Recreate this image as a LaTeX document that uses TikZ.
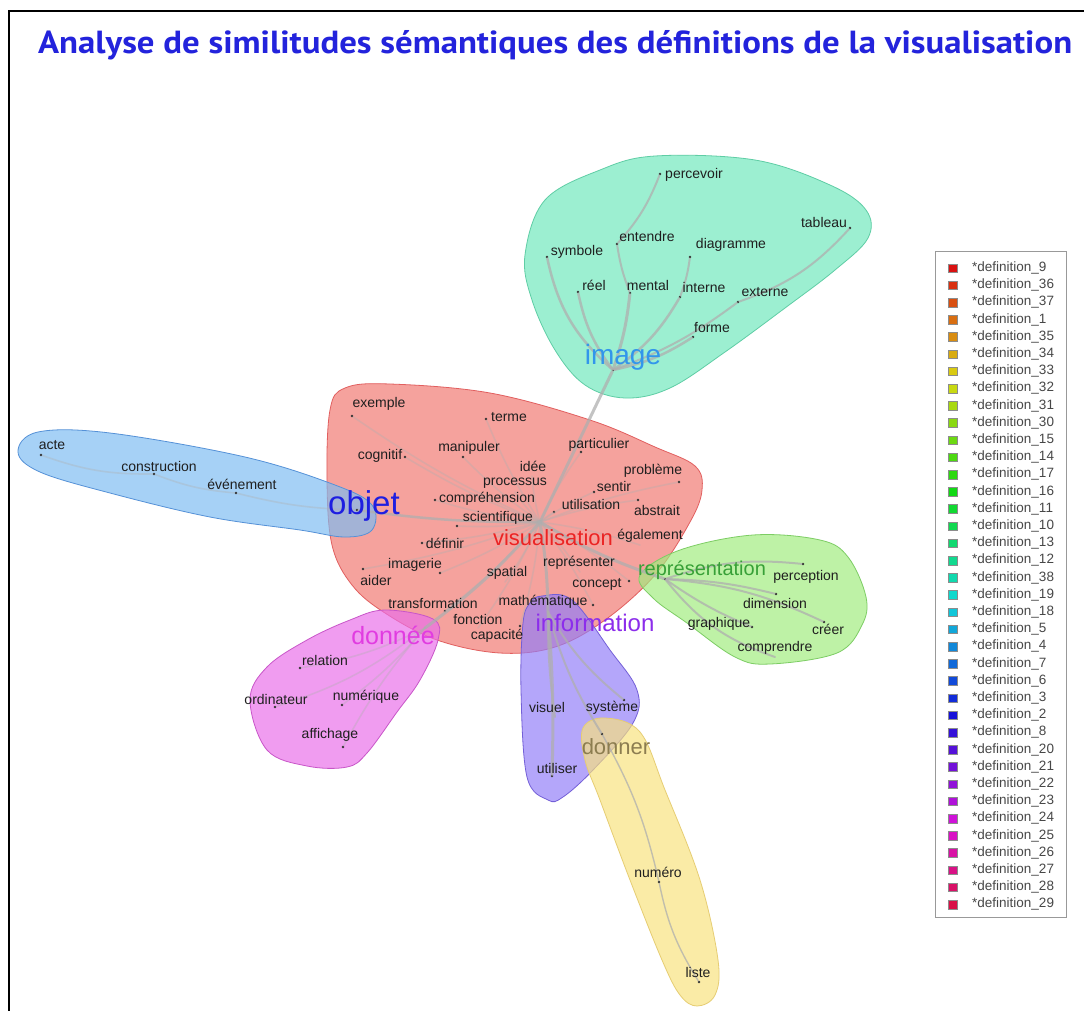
\documentclass[tikz,border=0pt]{standalone}
\usepackage{fontspec}
\setmainfont{Liberation Sans}
\newfontfamily\titlefont{PT Sans}
\definecolor{cRed}{RGB}{245,162,157}
\definecolor{cRedD}{RGB}{225,95,95}
\definecolor{cImg}{RGB}{110,232,188}
\definecolor{cImgD}{RGB}{95,205,165}
\definecolor{cObj}{RGB}{125,188,242}
\definecolor{cObjD}{RGB}{85,145,215}
\definecolor{cRep}{RGB}{160,236,125}
\definecolor{cRepD}{RGB}{125,205,100}
\definecolor{cDon}{RGB}{234,110,234}
\definecolor{cDonD}{RGB}{200,85,200}
\definecolor{cInf}{RGB}{145,125,248}
\definecolor{cInfD}{RGB}{115,95,215}
\definecolor{cDnr}{RGB}{248,226,125}
\definecolor{cDnrD}{RGB}{230,205,115}
\definecolor{tImg}{RGB}{50,150,235}
\definecolor{tObj}{RGB}{30,30,225}
\definecolor{tVis}{RGB}{235,35,35}
\definecolor{tRep}{RGB}{55,160,55}
\definecolor{tDon}{RGB}{225,60,225}
\definecolor{tInf}{RGB}{140,45,235}
\definecolor{tDnr}{RGB}{140,125,80}
\definecolor{ttl}{RGB}{35,35,220}
\definecolor{lnkc}{RGB}{175,175,175}
\begin{document}
\begin{tikzpicture}[x=1pt,y=-1pt,
  lbl/.style={font=\fontsize{14}{14}\selectfont, text=black!88, inner sep=0pt},
  big/.style={font=\fontsize{#1}{#1}\selectfont, inner sep=0pt},
  vdot/.style={fill=black!80, circle, inner sep=0pt, minimum size=2.6pt},
  lnk/.style={draw=lnkc, line width=#1, draw opacity=0.75, line cap=round},
  lnk/.default=2.5pt,
  faint/.style={draw=lnkc, line width=1.6pt, draw opacity=0.35, line cap=round},
  clu/.style={fill=#1, draw=#1D, line width=0.8pt, fill opacity=0.68},
  lsq/.style={draw=black!45, line width=0.3pt, minimum width=9pt, minimum height=8.5pt, inner sep=0pt},
  ltx/.style={font=\fontsize{13.5}{13.5}\selectfont, text=black!72, inner sep=0pt, anchor=west}
]
\useasboundingbox (0,0) rectangle (1084,1010);
\fill[white] (0,0) rectangle (1084,1010);
\draw[line width=2.6pt] (9,1012) -- (9,11) -- (1086,11);

% title
\node[anchor=base west, inner sep=0pt, text=ttl] (title) at (38,53)
  {\resizebox{1034pt}{23pt}{\titlefont\bfseries Analyse de similitudes sémantiques des définitions de la visualisation}};

% clusters
\fill[cRed] plot[smooth cycle, tension=0.6] coordinates {(330,410) (345,388) (390,384) (490,393) (590,420) (655,447) (695,466) (702,490) (690,522) (655,575) (605,620) (555,647) (500,653) (437,640) (385,613) (352,585) (332,545) (327,480)};
\draw[cRedD, line width=0.8pt] plot[smooth cycle, tension=0.6] coordinates {(330,410) (345,388) (390,384) (490,393) (590,420) (655,447) (695,466) (702,490) (690,522) (655,575) (605,620) (555,647) (500,653) (437,640) (385,613) (352,585) (332,545) (327,480)};
\path[clu=cImg] plot[smooth cycle, tension=0.6] coordinates {(525,255) (545,200) (600,170) (655,156) (755,160) (830,185) (866,210) (868,238) (835,270) (785,308) (725,352) (670,388) (625,398) (585,385) (555,350) (532,300)};
\path[clu=cObj] plot[smooth cycle, tension=0.6] coordinates {(18,452) (38,432) (110,433) (245,457) (335,485) (372,505) (372,530) (345,537) (300,530) (210,517) (110,493) (40,472)};
\path[clu=cRep] plot[smooth cycle, tension=0.6] coordinates {(640,575) (680,550) (753,535) (820,540) (848,557) (866,597) (862,625) (837,653) (770,664) (735,657) (687,623) (653,598)};
\path[clu=cDon] plot[smooth cycle, tension=0.6] coordinates {(350,620) (385,610) (433,619) (438,640) (420,680) (397,712) (367,753) (347,767) (307,766) (267,750) (250,700) (267,667) (307,640)};
\path[clu=cInf] plot[smooth cycle, tension=0.6] coordinates {(530,603) (542,596) (572,600) (610,650) (637,690) (633,723) (593,770) (563,797) (548,800) (527,777) (521,690) (523,623)};
\path[clu=cDnr] plot[smooth cycle, tension=0.6] coordinates {(583,728) (605,718) (640,732) (665,790) (700,880) (718,960) (715,995) (697,1006) (680,995) (662,960) (630,880) (600,800) (585,760)};

% vertices
\foreach \nm/\x/\y in {
 percevoir/660/174, entendre/617/244, symbole/547/257, diagramme/690/257, tableau/850/228,
 reel/578/292, mental/630/293, interne/680/297, externe/738/302, forme/693/337, image/613/370,
 acte/41/455, construction/154/474, evenement/236/493, objet/357/510,
 exemple/352/416, terme/486/419, cognitif/405/457, manipuler/463/457, particulier/581/452,
 probleme/679/482, sentir/594/492, comprehension/435/500, utilisation/554/512, abstrait/638/500,
 scientifique/457/526, definir/422/543, imagerie/440/573, aider/363/569, concept/629/581,
 transformation/445/611, mathematique/593/605, capacite/520/626,
 representation/665/579, perception/803/564, dimension/776/594, graphique/752/627, creer/824/622,
 relation/300/668, ordinateur/275/707, numerique/342/705, affichage/343/747,
 systeme/624/700, donner/602/734, utiliser/552/776, numero/659/882, liste/699/982}
 {\node[vdot] (v-\nm) at (\x,\y) {};}
% hidden vertices
\coordinate (v-vis) at (540,522);
\coordinate (v-idee) at (532,476);
\coordinate (v-processus) at (515,492);
\coordinate (v-egalement) at (640,545);
\coordinate (v-representer) at (580,572);
\coordinate (v-spatial) at (505,582);
\coordinate (v-fonction) at (478,628);
\coordinate (v-info) at (548,612);
\coordinate (v-visuel) at (555,717);
\coordinate (v-comprendre) at (775,657);
\coordinate (v-donnee) at (425,628);

% links image
\draw[lnk=3pt] (v-vis) -- (v-image);
\draw[lnk] (v-image) to[bend left=12] (v-reel);
\draw[lnk] (v-image) to[bend left=18] (v-symbole);
\draw[lnk=3pt] (v-image) to[bend right=6] (v-mental);
\draw[lnk=2pt] (v-mental) to[bend left=6] (v-entendre);
\draw[lnk=2pt] (v-entendre) to[bend right=10] (v-percevoir);
\draw[lnk] (v-image) to[bend right=12] (v-interne);
\draw[lnk=2pt] (v-interne) to[bend right=6] (v-diagramme);
\draw[lnk] (v-image) to[bend right=10] (v-forme);
\draw[lnk=2pt] (v-image) to[bend right=8] (v-externe);
\draw[lnk=2pt] (v-externe) to[bend right=14] (v-tableau);
% links objet
\draw[lnk=2.5pt] (v-vis) to[bend left=4] (v-objet);
\draw[faint] (v-objet) to[bend left=6] (v-evenement);
\draw[faint] (v-evenement) to[bend left=8] (v-construction);
\draw[faint] (v-construction) to[bend left=10] (v-acte);
% central links
\foreach \w in {terme,manipuler,particulier,idee,processus,sentir,comprehension,utilisation,scientifique,definir,imagerie,spatial,representer,concept,mathematique,fonction,capacite,transformation,abstrait,probleme,egalement,cognitif,exemple,aider}
 {\draw[faint] (v-vis) to[bend left=5] (v-\w);}
% representation
\draw[lnk=3pt] (v-vis) to[bend right=6] (v-representation);
\draw[lnk=2pt] (v-representation) to[bend left=12] (v-perception);
\draw[lnk=2pt] (v-representation) to[bend left=6] (v-dimension);
\draw[lnk=2pt] (v-representation) to[bend left=10] (v-creer);
\draw[lnk=2pt] (v-representation) to[bend right=6] (v-graphique);
\draw[lnk=2pt] (v-representation) to[bend right=16] (v-comprendre);
% donnee
\draw[lnk=3pt] (v-vis) to[bend left=6] (v-donnee);
\draw[faint] (v-donnee) to[bend left=8] (v-relation);
\draw[faint] (v-donnee) to[bend left=6] (v-numerique);
\draw[faint] (v-donnee) to[bend left=10] (v-ordinateur);
\draw[faint] (v-donnee) to[bend right=6] (v-affichage);
% information
\draw[lnk=3pt] (v-vis) to[bend left=4] (v-info);
\draw[lnk=3pt] (v-info) to[bend left=3] (v-utiliser);
\draw[lnk=2pt] (v-info) to[bend right=4] (v-visuel);
\draw[lnk=2pt] (v-info) to[bend right=10] (v-systeme);
\draw[lnk=2pt] (v-info) to[bend right=8] (v-donner);
\draw[lnk=1.4pt] (v-donner) to[bend left=8] (v-numero);
\draw[lnk=1.4pt] (v-numero) to[bend right=10] (v-liste);

% labels image
\node[lbl] (l-percevoir) at (694,175) {percevoir};
\node[lbl] (l-entendre) at (647,236) {entendre};
\node[lbl] (l-symbole) at (577,252) {symbole};
\node[lbl] (l-diagramme) at (731,245) {diagramme};
\node[lbl] (l-tableau) at (824,222) {tableau};
\node[lbl] (l-reel) at (594,285) {réel};
\node[lbl] (l-mental) at (648,285) {mental};
\node[lbl] (l-interne) at (704,287) {interne};
\node[lbl] (l-externe) at (765,292) {externe};
\node[lbl] (l-forme) at (712,327) {forme};
\node[big=28, text=tImg] (l-image) at (623,357) {image};
% labels objet
\node[lbl] (l-acte) at (52,445) {acte};
\node[lbl] (l-construction) at (159,466) {construction};
\node[lbl] (l-evenement) at (242,484) {événement};
\node[big=33, text=tObj] (l-objet) at (364,506) {objet};
% central labels
\node[lbl] (l-exemple) at (379,404) {exemple};
\node[lbl] (l-terme) at (509,417) {terme};
\node[lbl] (l-cognitif) at (380,456) {cognitif};
\node[lbl] (l-manipuler) at (469,448) {manipuler};
\node[lbl] (l-particulier) at (599,445) {particulier};
\node[lbl] (l-idee) at (533,466) {idée};
\node[lbl] (l-probleme) at (653,471) {problème};
\node[lbl] (l-processus) at (515,483) {processus};
\node[lbl] (l-sentir) at (614,486) {sentir};
\node[lbl] (l-comprehension) at (487,499) {compréhension};
\node[lbl] (l-utilisation) at (591,504) {utilisation};
\node[lbl] (l-abstrait) at (657,510) {abstrait};
\node[lbl] (l-scientifique) at (498,518) {scientifique};
\node[big=22, text=tVis] (l-vis) at (553,538) {visualisation};
\node[lbl] (l-egalement) at (650,536) {également};
\node[lbl] (l-definir) at (445,543) {définir};
\node[lbl] (l-representer) at (579,563) {représenter};
\node[lbl] (l-imagerie) at (415,565) {imagerie};
\node[lbl] (l-aider) at (376,580) {aider};
\node[lbl] (l-spatial) at (507,573) {spatial};
\node[lbl] (l-concept) at (597,584) {concept};
\node[lbl] (l-transformation) at (433,603) {transformation};
\node[lbl] (l-mathematique) at (543,602) {mathématique};
\node[lbl] (l-fonction) at (478,619) {fonction};
\node[lbl] (l-capacite) at (497,636) {capacité};
% representation labels
\node[big=20, text=tRep] (l-representation) at (702,570) {représentation};
\node[lbl] (l-perception) at (806,577) {perception};
\node[lbl] (l-dimension) at (775,603) {dimension};
\node[lbl] (l-graphique) at (719,624) {graphique};
\node[lbl] (l-creer) at (828,629) {créer};
\node[lbl] (l-comprendre) at (775,648) {comprendre};
% donnee labels
\node[big=25, text=tDon] (l-donnee) at (393,635) {donnée};
\node[lbl] (l-relation) at (325,660) {relation};
\node[lbl] (l-ordinateur) at (276,699) {ordinateur};
\node[lbl] (l-numerique) at (366,697) {numérique};
\node[lbl] (l-affichage) at (330,735) {affichage};
% information labels
\node[big=24, text=tInf] (l-info) at (595,623) {information};
\node[lbl] (l-visuel) at (547,707) {visuel};
\node[lbl] (l-systeme) at (612,708) {système};
\node[big=22, text=tDnr] (l-donner) at (616,747) {donner};
\node[lbl] (l-utiliser) at (557,768) {utiliser};
\node[lbl] (l-numero) at (658,872) {numéro};
\node[lbl] (l-liste) at (698,972) {liste};

% legend
\draw[black!40, line width=0.8pt] (935,251) rectangle (1066,917);
\foreach \n [count=\i from 0] in {9,36,37,1,35,34,33,32,31,30,15,14,17,16,11,10,13,12,38,19,18,5,4,7,6,3,2,8,20,21,22,23,24,25,26,27,28,29} {
  \pgfmathsetmacro\hh{\i/38*0.98}
  \definecolor{tmpc}{hsb}{\hh,0.92,0.85}
  \colorlet{lgc}[rgb]{tmpc}
  \node[lsq, fill=lgc] (sq\n) at (953,{268+\i*17.2}) {};
  \node[ltx] (lt\n) at (972,{268+\i*17.2}) {*definition\_\n};
}
\end{tikzpicture}
\end{document}
